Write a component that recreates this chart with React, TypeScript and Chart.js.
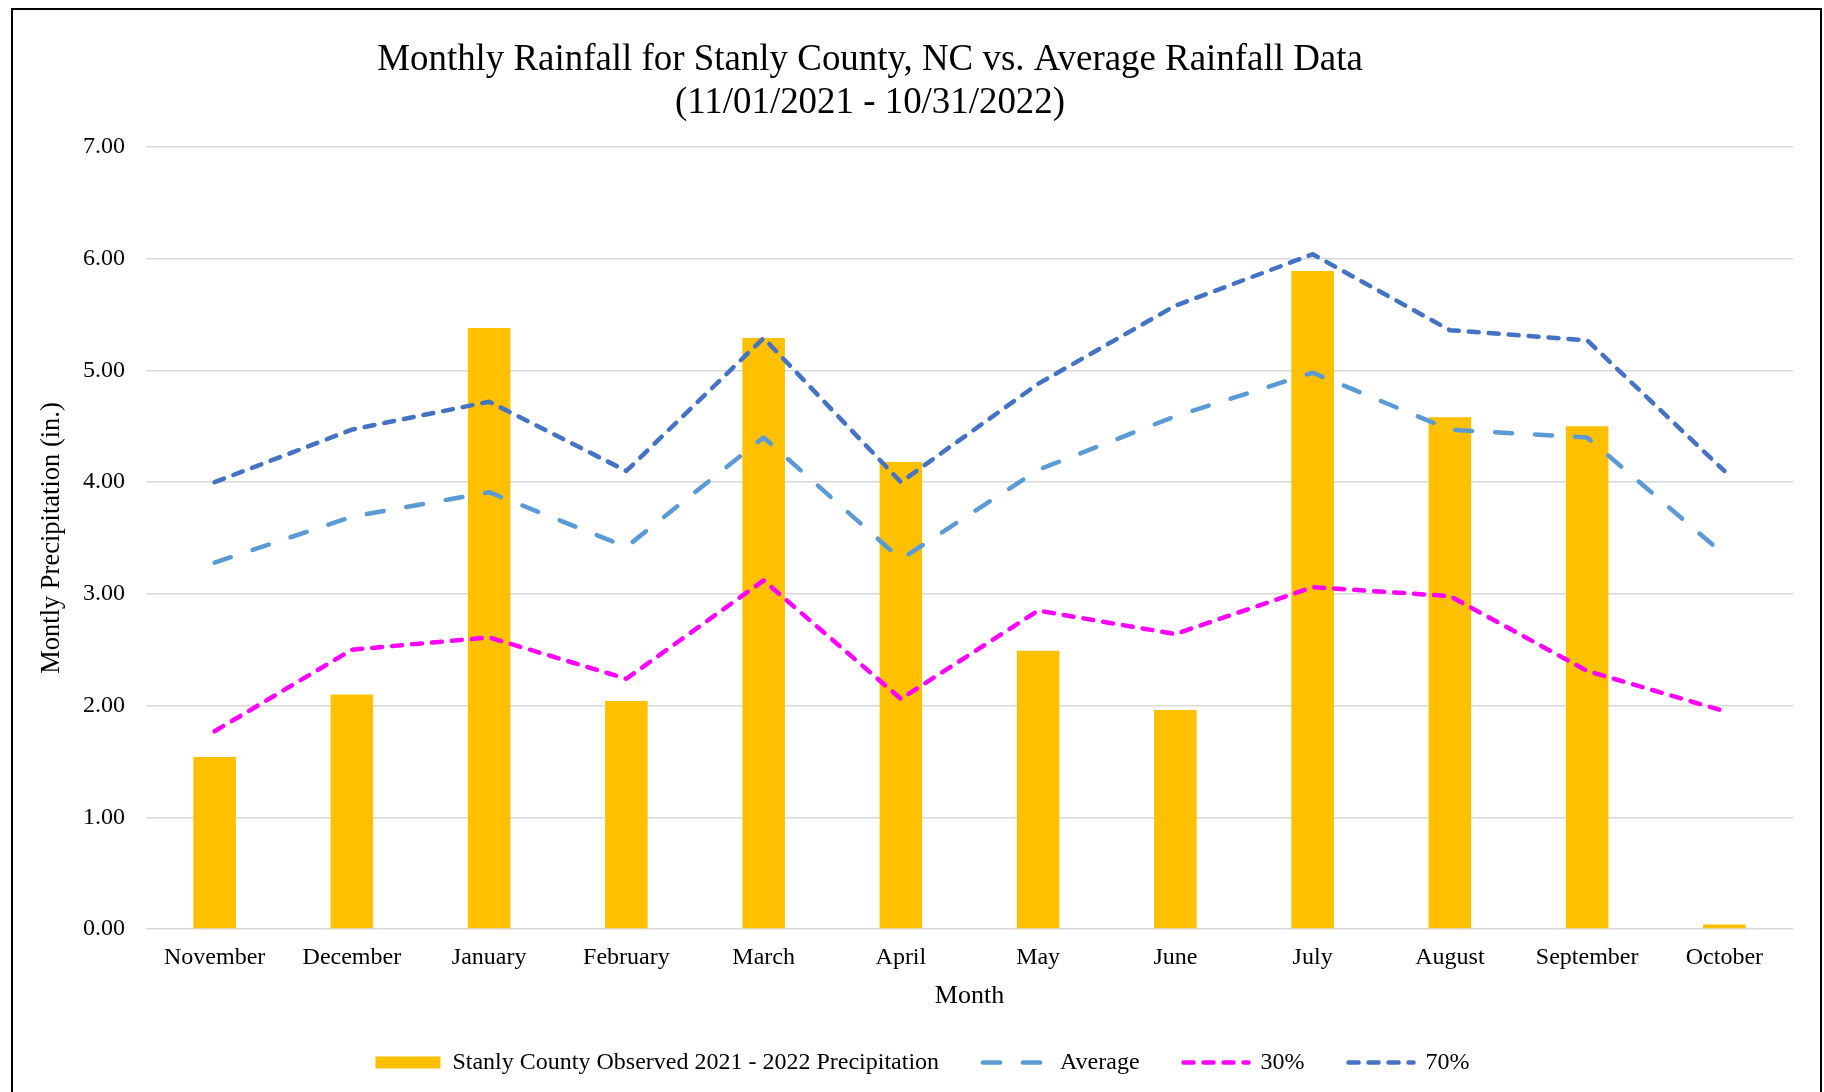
import React, { useEffect, useRef } from "react";
import { Chart, registerables } from "chart.js";

Chart.register(...registerables);

const months = [
  "November", "December", "January", "February", "March", "April",
  "May", "June", "July", "August", "September", "October",
];
const observed = [1.54, 2.1, 5.38, 2.04, 5.29, 4.18, 2.49, 1.96, 5.89, 4.58, 4.5, 0.04];
const average = [3.28, 3.69, 3.91, 3.42, 4.4, 3.31, 4.11, 4.59, 4.98, 4.47, 4.4, 3.35];
const pct30 = [1.77, 2.5, 2.61, 2.24, 3.12, 2.06, 2.85, 2.64, 3.06, 2.98, 2.31, 1.95];
const pct70 = [4.0, 4.47, 4.72, 4.1, 5.29, 4.0, 4.88, 5.58, 6.04, 5.36, 5.27, 4.1];
const yTickValues = [0, 1, 2, 3, 4, 5, 6, 7];
const yTickLabels = ["0.00", "1.00", "2.00", "3.00", "4.00", "5.00", "6.00", "7.00"];
const seriesLabels = ["Stanly County Observed 2021 - 2022 Precipitation", "Average", "30%", "70%"];
const titleLines = [
  "Monthly Rainfall for Stanly County, NC vs. Average Rainfall Data",
  "(11/01/2021 - 10/31/2022)",
];
const xTitle = "Month";
const yTitle = "Montly Precipitation (in.)";

const FONT = '"Liberation Serif", "Times New Roman", serif';

const titlePlugin = {
  id: "customTitle",
  afterDraw(chart: any) {
    const ctx = chart.ctx;
    ctx.save();
    ctx.font = `36.9px ${FONT}`;
    ctx.fillStyle = "#000";
    ctx.textAlign = "center";
    ctx.textBaseline = "alphabetic";
    titleLines.forEach((t, i) => ctx.fillText(t, 870, 70 + i * 42.5));
    ctx.restore();
  },
};

export default function App() {
  const ref = useRef<HTMLCanvasElement | null>(null);

  useEffect(() => {
    if (!ref.current) return;
    const lineCommon = {
      type: "line" as const,
      borderWidth: 4.5,
      borderCapStyle: "round" as const,
      borderJoinStyle: "round" as const,
      pointRadius: 0,
      pointHoverRadius: 0,
      tension: 0,
      fill: false,
      order: 1,
      pointStyle: "line",
    };
    const chart = new Chart(ref.current, {
      type: "bar",
      data: {
        labels: months,
        datasets: [
          {
            type: "bar",
            label: seriesLabels[0],
            data: observed,
            backgroundColor: "#FFC000",
            borderWidth: 0,
            barPercentage: 0.31,
            categoryPercentage: 1,
            order: 2,
          } as any,
          { ...lineCommon, label: seriesLabels[1], data: average, borderColor: "#5B9BD5", backgroundColor: "#5B9BD5", borderDash: [17, 23] } as any,
          { ...lineCommon, label: seriesLabels[2], data: pct30, borderColor: "#FF00FF", backgroundColor: "#FF00FF", borderDash: [10, 10] } as any,
          { ...lineCommon, label: seriesLabels[3], data: pct70, borderColor: "#4472C4", backgroundColor: "#4472C4", borderDash: [10, 10] } as any,
        ],
      },
      options: {
        responsive: false,
        animation: false,
        events: [],
        devicePixelRatio: 1,
        layout: { padding: { top: 147, left: 52, right: 31, bottom: 7.5 } },
        plugins: {
          title: { display: false },
          tooltip: { enabled: false },
          legend: {
            position: "bottom",
            labels: {
              usePointStyle: true,
              pointStyleWidth: 65,
              boxHeight: 12,
              padding: 44,
              color: "#000",
              font: { family: FONT, size: 24 },
              sort: (a: any, b: any) => a.datasetIndex - b.datasetIndex,
              generateLabels: (c: any) => {
                const items = (Chart.defaults.plugins.legend.labels as any).generateLabels(c);
                return items.map((it: any) => {
                  const ds = c.data.datasets[it.datasetIndex];
                  const isBar = it.datasetIndex === 0;
                  return {
                    ...it,
                    pointStyle: isBar ? "rect" : "line",
                    lineWidth: isBar ? 0 : 4.5,
                    lineDash: isBar ? [] : ds.borderDash,
                    lineCap: isBar ? "butt" : "round",
                    strokeStyle: ds.borderColor,
                    fillStyle: ds.backgroundColor,
                  };
                });
              },
            },
          },
        },
        scales: {
          x: {
            grid: { display: false },
            border: { display: false },
            ticks: {
              color: "#000",
              font: { family: FONT, size: 24 },
              padding: 6.5,
              maxRotation: 0,
              autoSkip: false,
            },
            title: {
              display: true,
              text: xTitle,
              color: "#000",
              font: { family: FONT, size: 26 },
              padding: { top: 0, bottom: -5.1 },
            },
            afterFit: (s: any) => {
              s.height = 77.5;
            },
          },
          y: {
            min: 0,
            max: 7,
            afterBuildTicks: (s: any) => {
              s.ticks = yTickValues.map((v) => ({ value: v }));
            },
            ticks: {
              color: "#000",
              font: { family: FONT, size: 24 },
              padding: 21,
              callback: (_v: any, i: number) => yTickLabels[i],
            },
            grid: { color: "#D9D9D9", lineWidth: 1.5, drawTicks: false },
            border: { display: false },
            title: {
              display: true,
              text: yTitle,
              color: "#000",
              font: { family: FONT, size: 26.5 },
              padding: { top: -15.4, bottom: 0 },
            },
            afterFit: (s: any) => {
              s.width = 94;
            },
          },
        },
      } as any,
      plugins: [titlePlugin],
    });
    return () => chart.destroy();
  }, []);

  return (
    <div style={{ position: "fixed", inset: 0, overflow: "hidden", background: "#fff" }}>
      <div
        style={{
          position: "absolute",
          left: 11,
          top: 8,
          width: 1811,
          height: 1200,
          boxSizing: "border-box",
          border: "2.5px solid #000",
        }}
      />
      <canvas
        ref={ref}
        width={1824}
        height={1092}
        style={{ position: "absolute", left: 0, top: 0, width: 1824, height: 1092 }}
      />
    </div>
  );
}
